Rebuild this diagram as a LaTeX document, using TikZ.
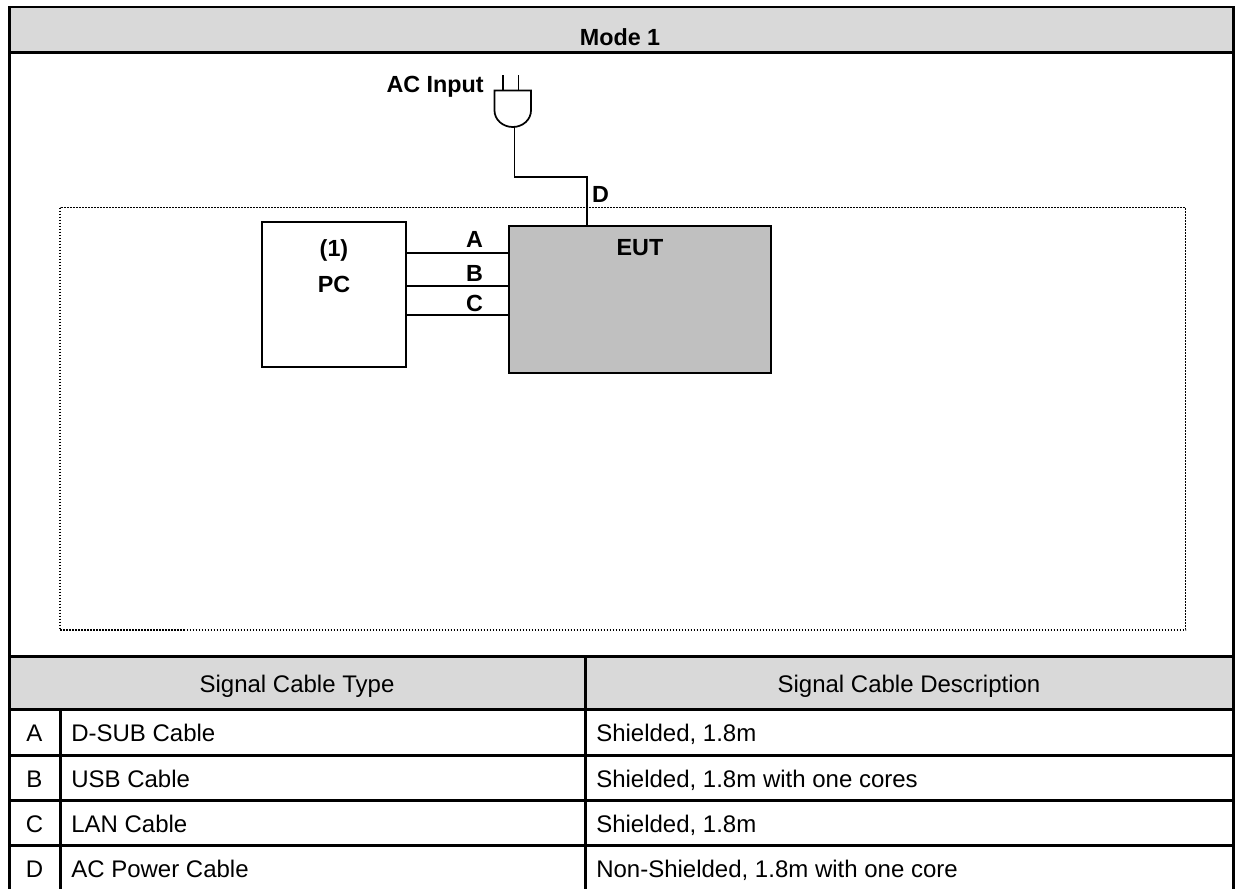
\documentclass[tikz,border=0pt]{standalone}
\usepackage{fontspec}
\setmainfont{Liberation Sans}
\usepackage{tikz}
\usetikzlibrary{positioning}
\usetikzlibrary{calc}
\definecolor{headgray}{RGB}{217,217,217}
\definecolor{eutgray}{RGB}{192,192,192}
\tikzset{
	rule/.style={line width=2.25pt},
	unitbox/.style={draw,line width=1.3pt,inner sep=0pt},
	wire/.style={line width=1.3pt},
	boldlabel/.style={font=\fontsize{17.5}{20}\selectfont\bfseries,inner sep=0pt,anchor=base},
	celltext/.style={font=\fontsize{18}{20}\selectfont,inner sep=0pt,anchor=base},
	leftcell/.style={celltext,anchor=base west}
}
\begin{document}
\begin{tikzpicture}[x=0.75pt,y=-0.75pt]
\useasboundingbox (0,0) rectangle (1237,889);

\fill[headgray] (9.5,7) rectangle (1233.5,52.5);
\fill[headgray] (9.5,656.5) rectangle (1233.5,709);

% table
\draw[line width=1.5pt] (8,7) -- (1235,7);
\draw[rule] (9.5,6) -- (9.5,889);
\draw[rule] (1233.5,6) -- (1233.5,889);
\draw[rule] (9.5,52.5) -- (1233.5,52.5);
\draw[rule] (9.5,656.5) -- (1233.5,656.5);
\draw[rule] (9.5,709) -- (1233.5,709);
\draw[rule] (9.5,755) -- (1233.5,755);
\draw[rule] (9.5,800.5) -- (1233.5,800.5);
\draw[rule] (9.5,845.5) -- (1233.5,845.5);
\draw[rule] (60,709) -- (60,889);
\draw[rule] (585.5,656.5) -- (585.5,889);

\node[boldlabel] (title) at (620,45) {Mode 1};
\node[celltext] (headleft) at (297,692) {Signal Cable Type};
\node[celltext] (headright) at (909,692) {Signal Cable Description};

\node[celltext] (rowa) at (34.5,741.5) {A};
\node[celltext] (rowb) at (34.5,787) {B};
\node[celltext] (rowc) at (34.5,832) {C};
\node[celltext] (rowd) at (34.5,877) {D};
\node[leftcell] (typea) at (71,741.5) {D-SUB Cable};
\node[leftcell] (typeb) at (71,787) {USB Cable};
\node[leftcell] (typec) at (71,832) {LAN Cable};
\node[leftcell] (typed) at (71,877) {AC Power Cable};
\node[leftcell] (desca) at (596,741.5) {Shielded, 1.8m};
\node[leftcell] (descb) at (596,787) {Shielded, 1.8m with one cores};
\node[leftcell] (descc) at (596,832) {Shielded, 1.8m};
\node[leftcell] (descd) at (596,877) {Non-Shielded, 1.8m with one core};

% dotted area
\draw[line width=1.2pt,dash pattern=on 1.35pt off 0.9pt] (60,207.5) rectangle (1185.5,630);

% units
\node[unitbox,minimum width=108pt,minimum height=108.5pt] (pc) at (333.7,294.4) {};
\node[unitbox,fill=eutgray,minimum width=196pt,minimum height=110.5pt] (eut) at (640,299.3) {};
\node[boldlabel] (pcnum) at (334,256.5) {(1)};
\node[boldlabel] (pcname) at (334,292.5) {PC};
\node[boldlabel] (eutname) at (640,255.5) {EUT};

% plug
\coordinate (plugtl) at (494.5,90.5);
\coordinate (plugtr) at (531,90.5);
\coordinate (plugb) at (514.5,126.7);
\draw[wire] (plugtl) -- (plugtr) -- ++(0,20) arc[start angle=0,end angle=180,x radius=18.25,y radius=16.5] -- cycle;
\coordinate (pina) at (503,75);
\coordinate (pinb) at (518.5,75);
\draw[wire] (pina) -- (pina |- plugtl);
\draw[wire] (pinb) -- (pinb |- plugtl);

\node[boldlabel,anchor=base east] (acin) at (484,92.3) {AC Input};

% cables
\coordinate (bend) at (586.7,176.7);
\draw[wire] (plugb) |- (bend) -- (bend |- eut.north);
\coordinate (pca) at (pc.east |- 0,253.3);
\coordinate (pcb) at (pc.east |- 0,286);
\coordinate (pcc) at (pc.east |- 0,315.3);
\draw[wire] (pca) -- (pca -| eut.west);
\draw[wire] (pcb) -- (pcb -| eut.west);
\draw[wire] (pcc) -- (pcc -| eut.west);
\node[boldlabel] (laba) at (474.5,247.5) {A};
\node[boldlabel] (labb) at (474.5,281.5) {B};
\node[boldlabel] (labc) at (474.5,311) {C};
\node[boldlabel] (labd) at (600.5,202.7) {D};
\end{tikzpicture}
\end{document}
